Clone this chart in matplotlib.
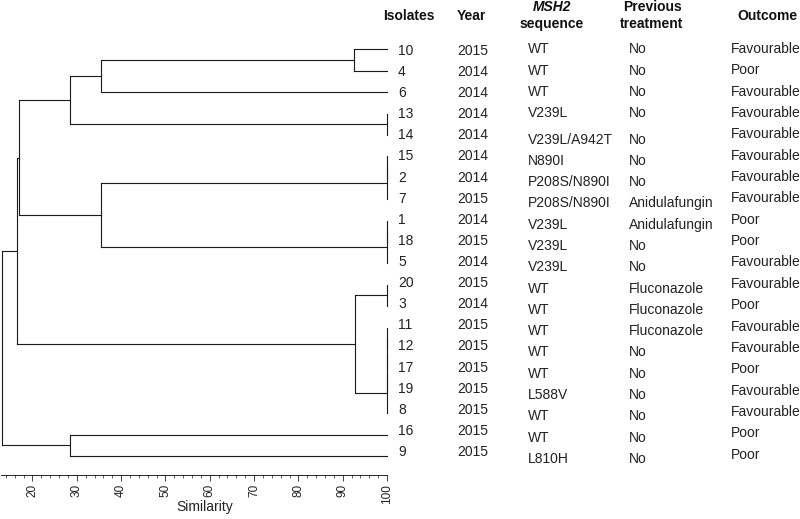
import matplotlib
matplotlib.use("Agg")
import matplotlib.pyplot as plt
import numpy as np

plt.rcParams['font.family'] = ['Liberation Sans', 'DejaVu Sans']

# leaves in display order (top to bottom)
isolates = ['10', '4', '6', '13', '14', '15', '2', '7', '1', '18',
            '5', '20', '3', '11', '12', '17', '19', '8', '16', '9']
years = ['2015', '2014', '2014', '2014', '2014', '2014', '2014', '2015', '2014', '2015',
         '2014', '2015', '2014', '2015', '2015', '2015', '2015', '2015', '2015', '2015']
msh2 = ['WT', 'WT', 'WT', 'V239L', 'V239L/A942T', 'N890I', 'P208S/N890I', 'P208S/N890I',
        'V239L', 'V239L', 'V239L', 'WT', 'WT', 'WT', 'WT', 'WT', 'L588V', 'WT', 'WT', 'L810H']
treatment = ['No', 'No', 'No', 'No', 'No', 'No', 'No', 'Anidulafungin', 'Anidulafungin', 'No',
             'No', 'Fluconazole', 'Fluconazole', 'Fluconazole', 'No', 'No', 'No', 'No', 'No', 'No']
outcome = ['Favourable', 'Poor', 'Favourable', 'Favourable', 'Favourable', 'Favourable',
           'Favourable', 'Favourable', 'Poor', 'Poor', 'Favourable', 'Favourable', 'Poor',
           'Favourable', 'Favourable', 'Poor', 'Favourable', 'Favourable', 'Poor', 'Poor']

# merges: (child a, child b, similarity); ids < 20 are leaf rows, id 20+k is merge k
merges = [
    (0, 1, 92.6),    # 20
    (20, 2, 35.5),   # 21
    (3, 4, 100.0),   # 22
    (21, 22, 28.5),  # 23
    (5, 6, 100.0),   # 24
    (24, 7, 100.0),  # 25
    (8, 9, 100.0),   # 26
    (26, 10, 100.0), # 27
    (25, 27, 35.5),  # 28
    (23, 28, 17.0),  # 29
    (11, 12, 100.0), # 30
    (13, 14, 100.0), # 31
    (31, 15, 100.0), # 32
    (32, 16, 100.0), # 33
    (33, 17, 100.0), # 34
    (30, 34, 92.8),  # 35
    (29, 35, 16.6),  # 36
    (18, 19, 28.5),  # 37
    (36, 37, 13.05), # 38
]

W, H = 800, 519
fig = plt.figure(figsize=(W / 100, H / 100), dpi=100)

# dendrogram axes: x = similarity, y = leaf row
ax = fig.add_axes([0, (H - 475) / H, 387 / W, 475 / H])
ax.set_xlim(12.67, 100)
ax.set_ylim((475 - 49.3) / 21.4, -49.3 / 21.4)

n = len(isolates)
pos_x = {i: 100.0 for i in range(n)}
pos_y = {i: float(i) for i in range(n)}
lc = '#1a1a1a'
for k, (a, b, s) in enumerate(merges):
    ax.plot([s, s], [pos_y[a], pos_y[b]], color=lc, lw=0.8, clip_on=False)
    for c in (a, b):
        ax.plot([s, pos_x[c]], [pos_y[c], pos_y[c]], color=lc, lw=0.8, clip_on=False)
    pos_x[n + k] = s
    pos_y[n + k] = (pos_y[a] + pos_y[b]) / 2

for sp in ['top', 'left', 'right']:
    ax.spines[sp].set_visible(False)
ax.spines['bottom'].set_bounds(12.9, 100)
ax.spines['bottom'].set_linewidth(0.6)
ax.set_yticks([])
ax.set_xticks(np.arange(20, 101, 10))
ax.set_xticks(np.arange(14, 100, 2), minor=True)
ax.tick_params(axis='x', which='major', length=4.3, width=0.6, labelsize=8.5,
               labelrotation=90, pad=2, colors='#222222')
ax.tick_params(axis='x', which='minor', length=2.2, width=0.5, colors='#222222')
ax.set_xlabel('Similarity', fontsize=10, color='#222222')
ax.xaxis.set_label_coords(205 / 387, -25 / 475)
ax.xaxis.label.set_va('top')
ax.patch.set_visible(False)

# table text in pixel coordinates
tab = fig.add_axes([0, 0, 1, 1])
tab.set_xlim(0, W)
tab.set_ylim(H, 0)
tab.axis('off')
tab.patch.set_visible(False)

tc = '#222222'
fs = 10
base = 5  # centre -> baseline offset in px
for i in range(n):
    y_row = 50 + 21.1 * i
    y_out = 48 + 21.35 * i
    y_seq = 48.3 + 21.3 * i + (5 if i >= 4 else 0)
    tab.text(398, y_row + base, isolates[i], fontsize=fs, color=tc, va='baseline')
    tab.text(457, y_row + base, years[i], fontsize=fs, color=tc, va='baseline')
    tab.text(528, y_seq + base, msh2[i], fontsize=fs, color=tc, va='baseline')
    tab.text(629, y_seq + base, treatment[i], fontsize=fs, color=tc, va='baseline')
    tab.text(731, y_out + base, outcome[i], fontsize=fs, color=tc, va='baseline')

hb = dict(fontsize=fs, color='#111111', fontweight='bold', va='baseline')
tab.text(383, 15 + base, 'Isolates', **hb)
tab.text(457, 15 + base, 'Year', **hb)
tab.text(552, 6 + base, 'MSH2', ha='center', fontstyle='italic', **hb)
tab.text(552, 23 + base, 'sequence', ha='center', **hb)
tab.text(653, 6 + base, 'Previous', ha='center', **hb)
tab.text(652, 23 + base, 'treatment', ha='center', **hb)
tab.text(797, 15 + base, 'Outcome', ha='right', **hb)

fig.savefig('out.png', dpi=100)
